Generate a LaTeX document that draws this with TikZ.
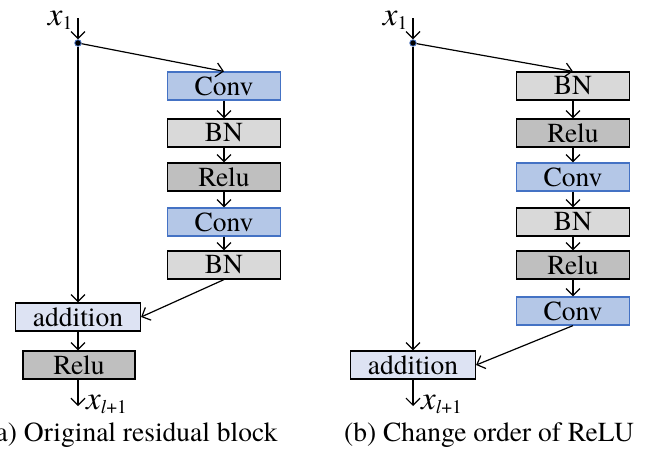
\documentclass[tikz,border=0pt]{standalone}
\usepackage{fontspec}
\setmainfont{texgyretermes}[Extension=.otf, UprightFont=*-regular, ItalicFont=*-italic,
  BoldFont=*-bold, BoldItalicFont=*-bolditalic]
\usetikzlibrary{arrows.meta}
\definecolor{convfill}{HTML}{B4C7E7}
\definecolor{convline}{HTML}{4472C4}
\definecolor{bnfill}{HTML}{D9D9D9}
\definecolor{relufill}{HTML}{BFBFBF}
\definecolor{addfill}{HTML}{DDE3F3}
\tikzset{
  blk/.style={draw, line width=1.2pt, minimum width=113pt, minimum height=28pt, inner sep=0pt,
    font=\fontsize{27.5}{28}\selectfont},
  conv/.style={blk, fill=convfill, draw=convline},
  bn/.style={blk, fill=bnfill},
  relu/.style={blk, fill=relufill},
  add/.style={blk, fill=addfill, minimum width=125pt},
  dot/.style={circle, fill=black, draw=convline, line width=0.8pt, inner sep=0pt, minimum size=6.5pt},
  lbl/.style={inner sep=0pt, font=\fontsize{27.5}{28}\selectfont},
  arr/.style={-{Straight Barb[length=7pt,width=14pt,line width=1.2pt]}, line width=1.2pt}
}
\newcommand{\vx}{\textit{\fontsize{33}{33}\selectfont x}}
\begin{document}
\begin{tikzpicture}[x=1pt,y=-1pt]
	\useasboundingbox (0,0) rectangle (649,455);
	% (a) original block
	\coordinate (InA) at (78,18);
	\path(78,43)   node[dot](DA) {};
	\path(224,86)  node[conv](A1) {Conv};
	\path(224,133) node[bn](A2) {BN};
	\path(224,177) node[relu](A3) {Relu};
	\path(224,222) node[conv](A4) {Conv};
	\path(224,265) node[bn](A5) {BN};
	\path(78,317)  node[add](AddA) {addition};
	\path(79,365)  node[relu, minimum width=112pt](A6) {Relu};
	\coordinate (OutA) at (78,406);
	\path(InA)+(-5,7) node[lbl, anchor=base east](XinA) {\vx\textsubscript{1}};
	\path(OutA)+(8,3) node[lbl, anchor=base west](XoutA) {\vx\textsubscript{\textit{l}+1}};
	\path(132,441) node[lbl, anchor=base](CapA) {(a) Original residual block};
	\draw[arr] (InA) -- (DA);
	\draw[arr] (DA) -- (A1.north);
	\draw[arr] (A1) -- (A2);
	\draw[arr] (A2) -- (A3);
	\draw[arr] (A3) -- (A4);
	\draw[arr] (A4) -- (A5);
	\draw[arr] (DA) -- (AddA);
	\draw[arr] (A5.south) -- (AddA.east);
	\draw[arr] (AddA) -- (A6.north -| AddA.south);
	\draw[arr] (A6.south -| OutA) -- (OutA);
	% (b) changed order
	\coordinate (InB) at (413,18);
	\path(413,43)  node[dot](DB) {};
	\path(573,86)  node[bn](B1) {BN};
	\path(573,133) node[relu](B2) {Relu};
	\path(573,177) node[conv](B3) {Conv};
	\path(573,222) node[bn](B4) {BN};
	\path(573,265) node[relu](B5) {Relu};
	\path(573,311) node[conv](B6) {Conv};
	\path(413,365) node[add](AddB) {addition};
	\coordinate (OutB) at (413,406);
	\path(InB)+(-5,7) node[lbl, anchor=base east](XinB) {\vx\textsubscript{1}};
	\path(OutB)+(8,3) node[lbl, anchor=base west](XoutB) {\vx\textsubscript{\textit{l}+1}};
	\path(489,441) node[lbl, anchor=base](CapB) {(b) Change order of ReLU};
	\draw[arr] (InB) -- (DB);
	\draw[arr] (DB) -- (B1.north);
	\draw[arr] (B1) -- (B2);
	\draw[arr] (B2) -- (B3);
	\draw[arr] (B3) -- (B4);
	\draw[arr] (B4) -- (B5);
	\draw[arr] (B5) -- (B6);
	\draw[arr] (DB) -- (AddB);
	\draw[arr] (B6.south) -- (AddB.east);
	\draw[arr] (AddB.south -| OutB) -- (OutB);
\end{tikzpicture}
\end{document}
